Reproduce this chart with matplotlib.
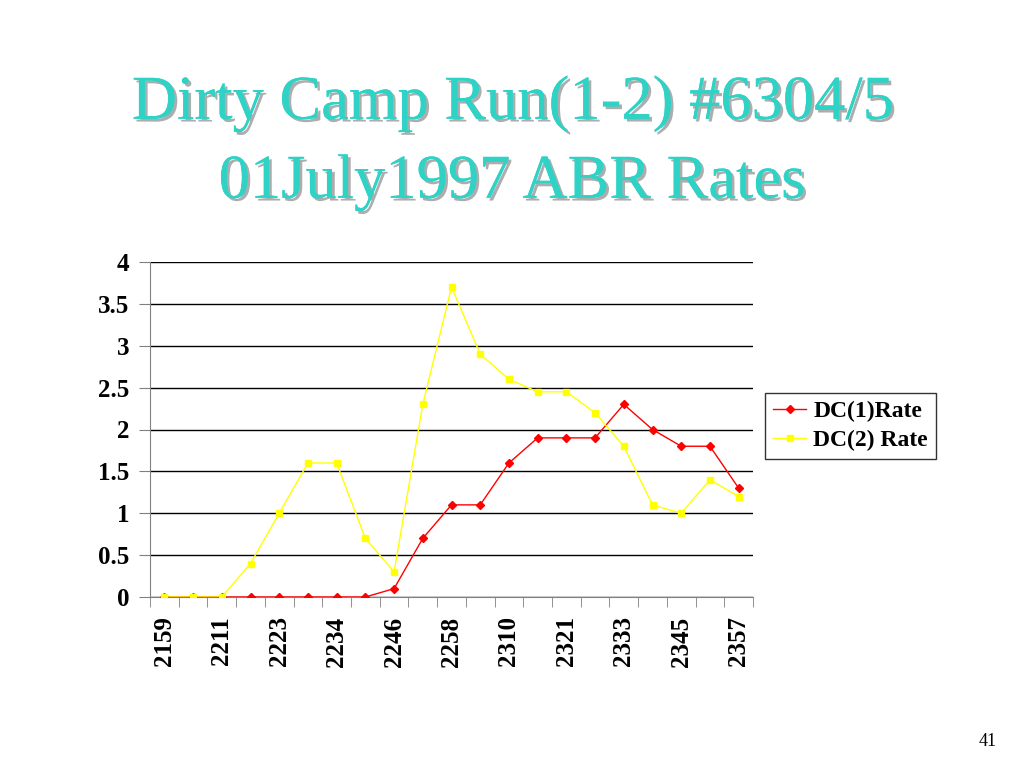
import numpy as np
import matplotlib.pyplot as plt
import matplotlib.patheffects as pe

# Time labels (only every other one is printed on the axis)
times = ['2159', '2205', '2211', '2217', '2223', '2229', '2234', '2240', '2246', '2252',
         '2258', '2304', '2310', '2316', '2321', '2327', '2333', '2339', '2345', '2351', '2357']
dc1_rate = [0, 0, 0, 0, 0, 0, 0, 0, 0.1, 0.7, 1.1, 1.1, 1.6, 1.9, 1.9, 1.9, 2.3, 2.0, 1.8, 1.8, 1.3]
dc2_rate = [0, 0, 0, 0.4, 1.0, 1.6, 1.6, 0.7, 0.3, 2.3, 3.7, 2.9, 2.6, 2.45, 2.45, 2.2, 1.8, 1.1, 1.0, 1.4, 1.2]

plt.rcParams['font.family'] = ['Liberation Serif', 'DejaVu Serif']

fig = plt.figure(figsize=(10.24, 7.68), dpi=100)
ax = fig.add_axes([150 / 1024, 1 - 597 / 768, 603 / 1024, 335 / 768])

x = np.arange(len(times))
ax.plot(x, dc1_rate, color='#ff0000', lw=1, marker='D', ms=4.5, label='DC(1)Rate', zorder=3)
ax.plot(x, dc2_rate, color='#ffff00', lw=1, marker='s', ms=5, label='DC(2) Rate', zorder=4)

ax.set_xlim(-0.5, len(times) - 0.5)
ax.set_ylim(0, 4)
ax.set_yticks(np.arange(0, 4.01, 0.5))
ax.set_yticklabels(['0', '0.5', '1', '1.5', '2', '2.5', '3', '3.5', '4'],
                   fontsize=18, fontweight='bold')
ax.yaxis.grid(True, color='black', lw=1)
ax.set_axisbelow(True)

# category labels centred on points, ticks on category boundaries
ax.set_xticks(x[::2])
ax.set_xticklabels(times[::2], rotation=90, fontsize=18, fontweight='bold')
ax.tick_params(axis='x', length=0, pad=14)
ax.set_xticks(np.arange(-0.5, len(times)), minor=True)
ax.tick_params(axis='x', which='minor', length=7, color='#808080', direction='out')
ax.tick_params(axis='y', length=8, color='#808080', direction='out', pad=7)

for s in ['top', 'right']:
    ax.spines[s].set_visible(False)
for s in ['left', 'bottom']:
    ax.spines[s].set_color('#808080')

leg = ax.legend(loc='upper left', bbox_to_anchor=(1.02, 0.61),
                prop={'weight': 'bold', 'size': 17}, frameon=True, fancybox=False,
                handlelength=1.4, handletextpad=0.3, borderpad=0.35, labelspacing=0.3,
                borderaxespad=0)
leg.get_frame().set_edgecolor('black')
leg.get_frame().set_linewidth(1)

shadow = [pe.withSimplePatchShadow(offset=(2, -2), shadow_rgbFace='#999999', alpha=0.8), pe.Normal()]
fig.text(0.501, 0.865, 'Dirty Camp Run(1-2) #6304/5', ha='center', va='center',
         fontsize=45, color='#2ed3c6', path_effects=shadow)
fig.text(0.50, 0.762, '01July1997 ABR Rates', ha='center', va='center',
         fontsize=45, color='#2ed3c6', path_effects=shadow)
fig.text(0.965, 0.035, '41', ha='center', va='center', fontsize=13)

fig.savefig('out.png', dpi=100)
